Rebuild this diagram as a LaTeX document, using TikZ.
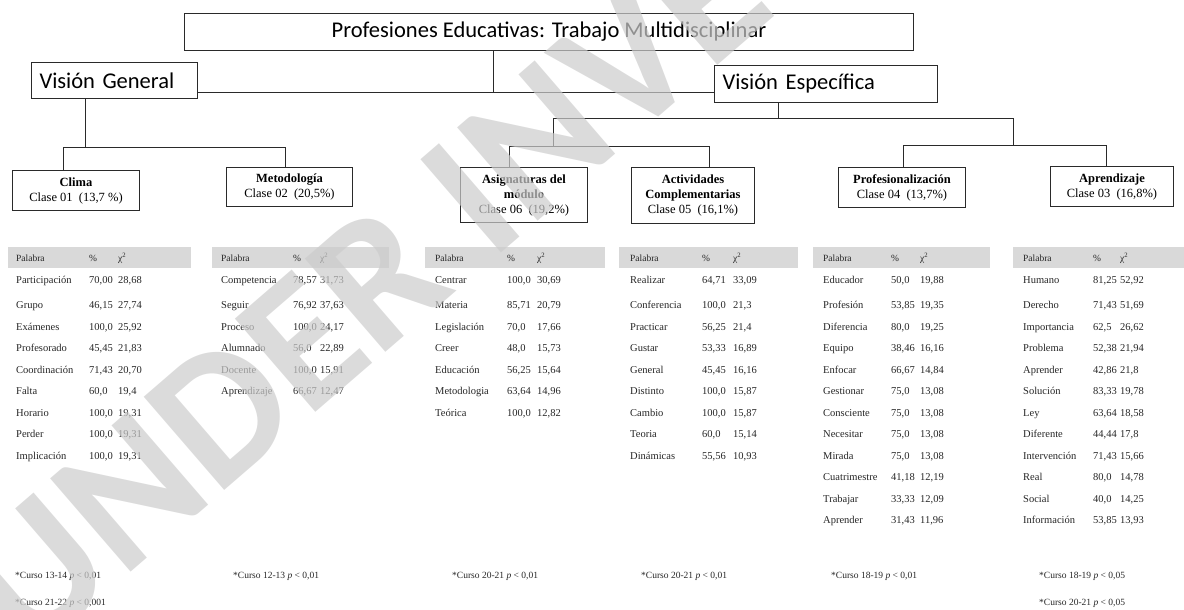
\documentclass[tikz,border=0pt]{standalone}
\usepackage{fontspec}
\setmainfont{Liberation Serif}
\newfontfamily\calfont[WordSpace=0.75]{Carlito}
\newfontfamily\wmfont{Carlito}
\definecolor{hdrgray}{HTML}{D9D9D9}
\definecolor{lncol}{HTML}{2A2A2A}
\newcommand\mktable[5]{%
  \foreach \cw/\cp/\cx [count=\i] in {#5} {%
    \pgfmathsetmacro\yy{(\i==1 ? 280 : 305 + 21.5*(\i-2)) + 3.6}%
    \node[cell] (#1w\i) at (#2,\yy) {\cw};
    \node[cell] (#1p\i) at (#3,\yy) {\cp};
    \node[cell] (#1c\i) at (#4,\yy) {\cx};
  }%
}
\newcommand\mkhead[6]{%
  \node[hdrbar, minimum width=#3, anchor=north west] (#1bar) at (#2,247) {};
  \node[hdr] (#1hw) at (#4,261) {Palabra};
  \node[hdr] (#1hp) at (#5,261) {\%};
  \node[hdr] (#1hc) at (#6,261) {χ\textsuperscript{2}};
}
\begin{document}
\begin{tikzpicture}[x=1pt,y=-1pt,
  bigbox/.style={draw=lncol, line width=1pt, inner sep=0pt, font=\calfont\fontsize{22.5}{27}\selectfont},
  clsbox/.style={draw=lncol, line width=1pt, align=center, inner sep=0pt, font=\fontsize{12.5}{15}\selectfont},
  link/.style={draw=lncol, line width=1pt},
  hdrbar/.style={fill=hdrgray, inner sep=0pt, minimum height=21pt},
  hdr/.style={anchor=base west, inner sep=0pt, font=\fontsize{9.5}{11}\selectfont, text=black!85},
  cell/.style={anchor=base west, inner sep=0pt, font=\fontsize{10.5}{12}\selectfont, text=black!85},
  note/.style={anchor=base west, inner sep=0pt, font=\fontsize{9.5}{11}\selectfont, text=black!85},
  wm/.style={inner sep=0pt, font=\wmfont\bfseries\fontsize{190}{190}\selectfont, text=black!20, text opacity=0.7}
]
\useasboundingbox (0,0) rectangle (1184,610);

% top level boxes
\node[bigbox, anchor=north west, minimum width=729pt, minimum height=37pt] (title) at (184,13) {Profesiones Educativas: Trabajo Multidisciplinar};
\node[bigbox, anchor=north west, minimum width=166pt, minimum height=36pt, text width=150pt, align=left, inner xsep=8pt] (vg) at (31,62) {Visión General};
\node[bigbox, anchor=north west, minimum width=223pt, minimum height=37pt, text width=207pt, align=left, inner xsep=8pt] (ve) at (714,65) {Visión Específica};

% class boxes
\node[clsbox, anchor=north west, minimum width=127pt, minimum height=40pt] (clima) at (12,170) {\textbf{Clima}\\Clase 01 \ (13,7 \%)};
\node[clsbox, anchor=north west, minimum width=126pt, minimum height=39pt] (metod) at (226,167) {\textbf{Metodología}\\Clase 02 \ (20,5\%)};
\node[clsbox, anchor=north west, minimum width=127pt, minimum height=55pt] (asig) at (460,167) {\textbf{Asignaturas del}\\\textbf{módulo}\\Clase 06 \ (19,2\%)};
\node[clsbox, anchor=north west, minimum width=123pt, minimum height=56pt] (activ) at (631,167) {\textbf{Actividades}\\\textbf{Complementarias}\\Clase 05 \ (16,1\%)};
\node[clsbox, anchor=north west, minimum width=127pt, minimum height=40pt] (prof) at (838,167) {\textbf{Profesionalización}\\Clase 04 \ (13,7\%)};
\node[clsbox, anchor=north west, minimum width=123pt, minimum height=40pt] (aprend) at (1050,166) {\textbf{Aprendizaje}\\Clase 03 \ (16,8\%)};

% connectors
\coordinate (tj) at (493,93);
\draw[link] (tj |- title.south) -- (tj);
\draw[link] (vg.east |- tj) -- (ve.west |- tj);
\coordinate (gj) at (85,147);
\draw[link] (gj |- vg.south) -- (gj);
\coordinate (b1) at (63,147);
\coordinate (b2) at (285,147);
\draw[link] (clima.north -| b1) -- (b1) -- (b2) -- (metod.north -| b2);
\coordinate (ej) at (778,118);
\draw[link] (ej |- ve.south) -- (ej);
\coordinate (u1) at (553,118);
\coordinate (u2) at (1013,118);
\draw[link] (u1) -- (u2);
\coordinate (b3) at (509,146);
\coordinate (b4) at (709,146);
\draw[link] (asig.north -| b3) -- (b3) -- (b4) -- (activ.north -| b4);
\draw[link] (u1) -- (u1 |- b3);
\coordinate (b5) at (903,145);
\coordinate (b6) at (1106,145);
\draw[link] (prof.north -| b5) -- (b5) -- (b6) -- (aprend.north -| b6);
\draw[link] (u2) -- (u2 |- b5);

% tables
\mkhead{ta}{8}{183pt}{16}{89}{118}
\mktable{ta}{16}{89}{118}{Participación/{70,00}/{28,68}, Grupo/{46,15}/{27,74}, Exámenes/{100,0}/{25,92}, Profesorado/{45,45}/{21,83}, Coordinación/{71,43}/{20,70}, Falta/{60,0}/{19,4}, Horario/{100,0}/{19,31}, Perder/{100,0}/{19,31}, Implicación/{100,0}/{19,31}}

\mkhead{tb}{212}{177pt}{221}{293}{320}
\mktable{tb}{221}{293}{320}{Competencia/{78,57}/{31,73}, Seguir/{76,92}/{37,63}, Proceso/{100,0}/{24,17}, Alumnado/{56,0}/{22,89}, Docente/{100,0}/{15,91}, Aprendizaje/{66,67}/{12,47}}

\mkhead{tc}{425}{180pt}{435}{507}{537}
\mktable{tc}{435}{507}{537}{Centrar/{100,0}/{30,69}, Materia/{85,71}/{20,79}, Legislación/{70,0}/{17,66}, Creer/{48,0}/{15,73}, Educación/{56,25}/{15,64}, Metodologia/{63,64}/{14,96}, Teórica/{100,0}/{12,82}}

\mkhead{td}{619}{179pt}{630}{702}{733}
\mktable{td}{630}{702}{733}{Realizar/{64,71}/{33,09}, Conferencia/{100,0}/{21,3}, Practicar/{56,25}/{21,4}, Gustar/{53,33}/{16,89}, General/{45,45}/{16,16}, Distinto/{100,0}/{15,87}, Cambio/{100,0}/{15,87}, Teoria/{60,0}/{15,14}, Dinámicas/{55,56}/{10,93}}

\mkhead{te}{813}{177pt}{823}{891}{920}
\mktable{te}{823}{891}{920}{Educador/{50,0}/{19,88}, Profesión/{53,85}/{19,35}, Diferencia/{80,0}/{19,25}, Equipo/{38,46}/{16,16}, Enfocar/{66,67}/{14,84}, Gestionar/{75,0}/{13,08}, Consciente/{75,0}/{13,08}, Necesitar/{75,0}/{13,08}, Mirada/{75,0}/{13,08}, Cuatrimestre/{41,18}/{12,19}, Trabajar/{33,33}/{12,09}, Aprender/{31,43}/{11,96}}

\mkhead{tf}{1013}{171pt}{1023}{1093}{1120}
\mktable{tf}{1023}{1093}{1120}{Humano/{81,25}/{52,92}, Derecho/{71,43}/{51,69}, Importancia/{62,5}/{26,62}, Problema/{52,38}/{21,94}, Aprender/{42,86}/{21,8}, Solución/{83,33}/{19,78}, Ley/{63,64}/{18,58}, Diferente/{44,44}/{17,8}, Intervención/{71,43}/{15,66}, Real/{80,0}/{14,78}, Social/{40,0}/{14,25}, Información/{53,85}/{13,93}}

% footnotes
\node[note] (n1) at (15,578) {*Curso 13-14 \textit{p} < 0,01};
\node[note] (n2) at (15,605) {*Curso 21-22 \textit{p} < 0,001};
\node[note] (n3) at (233,578) {*Curso 12-13 \textit{p} < 0,01};
\node[note] (n4) at (452,578) {*Curso 20-21 \textit{p} < 0,01};
\node[note] (n5) at (641,578) {*Curso 20-21 \textit{p} < 0,01};
\node[note] (n6) at (831,578) {*Curso 18-19 \textit{p} < 0,01};
\node[note] (n7) at (1039,578) {*Curso 18-19 \textit{p} < 0,05};
\node[note] (n8) at (1039,605) {*Curso 20-21 \textit{p} < 0,05};

% watermark
\begin{scope}
\clip (0,0) rectangle (1184,610);
\node[wm, rotate=40.8, anchor=base west] (wmark) at (28,661) {UNDER INVESTIGATION};
\end{scope}
\end{tikzpicture}
\end{document}
